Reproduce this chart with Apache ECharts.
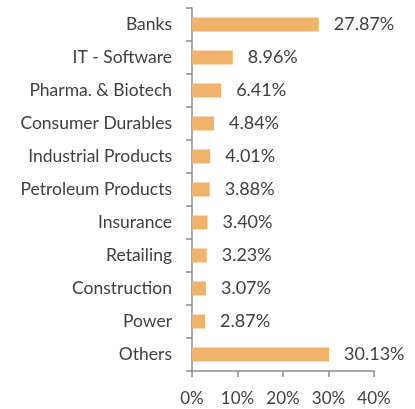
<!DOCTYPE html>
<html>
<head>
<meta charset="utf-8">
<script src="https://cdn.jsdelivr.net/npm/echarts@6/dist/echarts.min.js"></script>
<style>
  html, body { margin: 0; padding: 0; background: #fff; }
  #chartBox { width: 415px; height: 409px; }
</style>
</head>
<body>
<div id="chartBox"></div>
<script>
// sectors, top to bottom
var sectors = ['Banks', 'IT - Software', 'Pharma. & Biotech', 'Consumer Durables', 'Industrial Products',
               'Petroleum Products', 'Insurance', 'Retailing', 'Construction', 'Power', 'Others'];
var weights = [27.87, 8.96, 6.41, 4.84, 4.01, 3.88, 3.40, 3.23, 3.07, 2.87, 30.13];
var xTicks = [0, 10, 20, 30, 40];

var chartDom = document.getElementById('chartBox');
var myChart = echarts.init(chartDom);

var option = {
    animation: false,
    textStyle: { fontFamily: 'Lato' },
    grid: {
        left: 192,
        right: 41,
        top: 8,
        bottom: 38,
        containLabel: false
    },
    xAxis: {
        type: 'value',
        min: xTicks[0],
        max: xTicks[xTicks.length - 1],
        interval: 10,
        splitLine: { show: false },
        axisLine: { show: true, lineStyle: { color: '#8c8c8c', width: 1.5 } },
        axisTick: { show: true, length: 6, lineStyle: { color: '#8c8c8c', width: 1.5 } },
        axisLabel: {
            formatter: '{value}%',
            color: '#404040',
            fontSize: 17,
            margin: 19
        }
    },
    yAxis: {
        type: 'category',
        inverse: true,
        data: sectors,
        axisLine: { show: true, lineStyle: { color: '#8c8c8c', width: 1.5 } },
        axisTick: { show: true, length: 6, lineStyle: { color: '#8c8c8c', width: 1.5 } },
        axisLabel: {
            color: '#404040',
            fontSize: 17.5,
            margin: 20
        }
    },
    series: [
        {
            type: 'bar',
            data: weights,
            barWidth: 14,
            itemStyle: { color: '#F0B36B' },
            label: {
                show: true,
                position: 'right',
                distance: 15,
                color: '#404040',
                fontSize: 18,
                formatter: function (p) { return p.value.toFixed(2) + '%'; }
            }
        }
    ]
};
myChart.setOption(option);
</script>
</body>
</html>
